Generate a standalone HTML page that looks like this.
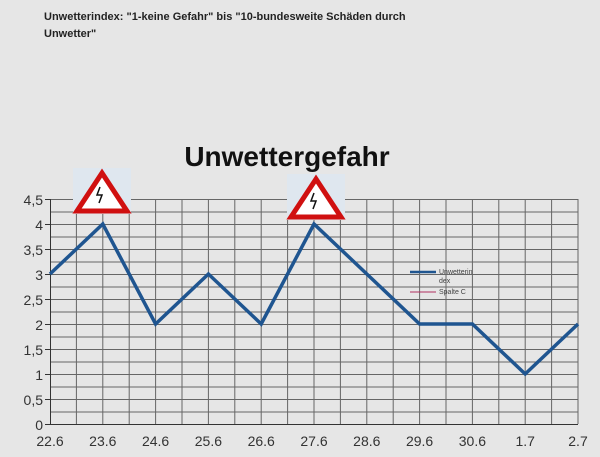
<!DOCTYPE html>
<html><head><meta charset="utf-8"><style>
body{margin:0;background:#e6e6e6;}
svg{display:block}
</style></head><body>
<svg width="600" height="457" xmlns="http://www.w3.org/2000/svg" font-family="Liberation Sans, sans-serif">
<rect width="600" height="457" fill="#e6e6e6"/>
<text x="44" y="20" font-size="11" font-weight="bold" fill="#222">Unwetterindex: "1-keine Gefahr" bis "10-bundesweite Schäden durch</text>
<text x="44" y="37" font-size="11" font-weight="bold" fill="#222">Unwetter"</text>
<text x="287" y="166" font-size="28" font-weight="bold" text-anchor="middle" fill="#111">Unwettergefahr</text>
<g stroke="#666" stroke-width="1" fill="none">
<path d="M50 199.5H578M50 212H578M50 224.5H578M50 237H578M50 249.5H578M50 262H578M50 274.5H578M50 287H578M50 299.5H578M50 312H578M50 324.5H578M50 337H578M50 349.5H578M50 362H578M50 374.5H578M50 387H578M50 399.5H578M50 412H578"/>
<path d="M76.4 199V424M102.8 199V424M129.2 199V424M155.6 199V424M182 199V424M208.4 199V424M234.8 199V424M261.2 199V424M287.6 199V424M314 199V424M340.4 199V424M366.8 199V424M393.2 199V424M419.6 199V424M446 199V424M472.4 199V424M498.8 199V424M525.2 199V424M551.6 199V424M578 199V424"/>
</g>
<g stroke="#333" stroke-width="1" fill="none">
<path d="M50.5 199V424.5H578"/>
<path d="M45 199.5H50M45 224.5H50M45 249.5H50M45 274.5H50M45 299.5H50M45 324.5H50M45 349.5H50M45 374.5H50M45 399.5H50M45 424.5H50"/>
</g>
<g font-size="14" fill="#333" text-anchor="end">
<text x="43" y="205">4,5</text><text x="43" y="230">4</text><text x="43" y="255">3,5</text><text x="43" y="280">3</text><text x="43" y="305">2,5</text><text x="43" y="330">2</text><text x="43" y="355">1,5</text><text x="43" y="380">1</text><text x="43" y="405">0,5</text><text x="43" y="430">0</text>
</g>
<g font-size="14" fill="#333" text-anchor="middle">
<text x="50" y="446">22.6</text><text x="102.8" y="446">23.6</text><text x="155.6" y="446">24.6</text><text x="208.4" y="446">25.6</text><text x="261.2" y="446">26.6</text><text x="314" y="446">27.6</text><text x="366.8" y="446">28.6</text><text x="419.6" y="446">29.6</text><text x="472.4" y="446">30.6</text><text x="525.2" y="446">1.7</text><text x="578" y="446">2.7</text>
</g>
<polyline fill="none" stroke="#1f5590" stroke-width="3.5" stroke-linejoin="miter" points="50,274 102.8,224 155.6,324 208.4,274 261.2,324 314,224 366.8,274 419.6,324 472.4,324 525.2,374 578,324"/>
<g>
<rect x="73" y="168" width="58" height="46" fill="#dfe7ef"/>
<polygon points="102,173 127,211 77,211" fill="#fff" stroke="#d01010" stroke-width="5" stroke-linejoin="miter"/>
<path d="M100 187l-3 8h5l-3 8" fill="none" stroke="#111" stroke-width="1.5"/>
<rect x="287" y="174" width="58" height="46" fill="#dfe7ef"/>
<polygon points="316,179 341,217 291,217" fill="#fff" stroke="#d01010" stroke-width="5" stroke-linejoin="miter"/>
<path d="M314 193l-3 8h5l-3 8" fill="none" stroke="#111" stroke-width="1.5"/>
</g>
<g font-size="7" fill="#444">
<line x1="410" y1="272" x2="436" y2="272" stroke="#1f5590" stroke-width="2.5"/>
<text x="439" y="274">Unwetterin</text><text x="439" y="283">dex</text>
<line x1="410" y1="292" x2="436" y2="292" stroke="#b03060" stroke-width="1"/>
<text x="439" y="294">Spalte C</text>
</g>
</svg>
</body></html>
